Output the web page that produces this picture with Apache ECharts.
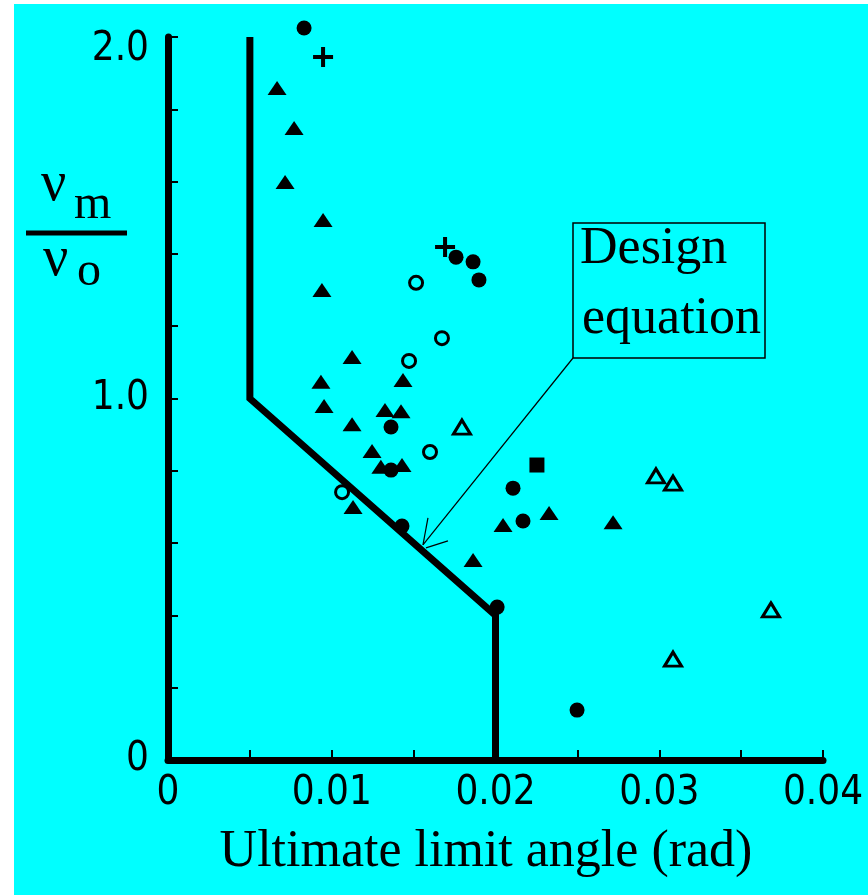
<!DOCTYPE html>
<html>
<head>
<meta charset="utf-8">
<script src="https://cdn.jsdelivr.net/npm/echarts@6/dist/echarts.min.js"></script>
<style>
html, body { margin: 0; padding: 0; background: #fff; }
#main { width: 868px; height: 895px; }
</style>
</head>
<body>
<div id="main"></div>
<script>
// design equation (angle, vm/vo)
var designLine = [[0.005, 2.0], [0.005, 1.0], [0.02, 0.4], [0.02, 0]];

// test results, one array per marker type
var filledTriangles = [
  [0.00666, 1.859], [0.0077, 1.748], [0.00715, 1.599], [0.00947, 1.494],
  [0.0094, 1.300], [0.01124, 1.115], [0.00934, 1.046], [0.00953, 0.979],
  [0.01124, 0.929], [0.01435, 1.051], [0.01325, 0.968], [0.01423, 0.965],
  [0.01246, 0.855], [0.0130, 0.811], [0.01429, 0.816], [0.0113, 0.700],
  [0.01863, 0.553], [0.02046, 0.650], [0.02327, 0.683], [0.02718, 0.658]
];
var filledCircles = [
  [0.00831, 2.025], [0.01362, 0.921], [0.01362, 0.802], [0.01429, 0.647],
  [0.0201, 0.423], [0.02107, 0.752], [0.02168, 0.661], [0.02498, 0.138],
  [0.01759, 1.391], [0.01863, 1.378], [0.01899, 1.328]
];
var openCircles = [
  [0.01673, 1.167], [0.01472, 1.104], [0.0160, 0.852], [0.01063, 0.741], [0.01515, 1.320]
];
var openTriangles = [
  [0.01795, 0.921], [0.0298, 0.786], [0.03084, 0.766], [0.03682, 0.415], [0.03084, 0.279]
];
var plusMarks = [[0.00947, 1.945], [0.01692, 1.419]];
var squareMarks = [[0.02253, 0.816]];

// labelled ticks
var xLabelValues = [0, 0.01, 0.02, 0.03, 0.04];
var yLabelValues = [0, 1.0, 2.0];

var CYAN = '#00ffff';
var numFont = "'Liberation Sans Narrow', 'DejaVu Sans Condensed', sans-serif";
var serif = "'Liberation Serif', 'DejaVu Serif', serif";

function isLabelled(list, v) {
  for (var i = 0; i < list.length; i++) {
    if (Math.abs(list[i] - v) < 1e-7) return true;
  }
  return false;
}

var chart = echarts.init(document.getElementById('main'));

var option = {
  animation: false,
  backgroundColor: CYAN,
  grid: { left: 168, right: 45, top: 37, bottom: 135 },
  xAxis: {
    type: 'value', min: 0, max: 0.04, interval: 0.005,
    splitLine: { show: false },
    axisLine: { lineStyle: { color: '#000', width: 7 } },
    axisTick: { inside: true, length: 10, lineStyle: { color: '#000', width: 2 } },
    axisLabel: {
      margin: 14, color: '#000', fontSize: 40, fontFamily: numFont,
      formatter: function (v) {
        if (!isLabelled(xLabelValues, v)) return '';
        return v === 0 ? '0' : v.toFixed(2);
      }
    }
  },
  yAxis: {
    type: 'value', min: 0, max: 2.0, interval: 0.2,
    splitLine: { show: false },
    axisLine: { lineStyle: { color: '#000', width: 7 } },
    axisTick: { inside: true, length: 10, lineStyle: { color: '#000', width: 2 } },
    axisLabel: {
      margin: 19, color: '#000', fontSize: 40, fontFamily: numFont,
      formatter: function (v) {
        if (!isLabelled(yLabelValues, v)) return '';
        if (v === 0) return '0';
        if (Math.abs(v - 2) < 1e-7) return '{top|2.0}';
        return v.toFixed(1);
      },
      rich: {
        top: { fontSize: 40, fontFamily: numFont, color: '#000', padding: [26, 0, 0, 0] }
      }
    }
  },
  series: [
    {
      type: 'line', data: designLine, symbol: 'none', silent: true,
      lineStyle: { color: '#000', width: 7, join: 'miter' }
    },
    {
      type: 'scatter', data: filledTriangles, clip: false, silent: true,
      symbol: 'triangle', symbolSize: [19, 14], itemStyle: { color: '#000', opacity: 1 }
    },
    {
      type: 'scatter', data: filledCircles, clip: false, silent: true,
      symbol: 'circle', symbolSize: 15, itemStyle: { color: '#000', opacity: 1 }
    },
    {
      type: 'scatter', data: openCircles, clip: false, silent: true,
      symbol: 'circle', symbolSize: 13,
      itemStyle: { color: CYAN, borderColor: '#000', borderWidth: 3, opacity: 1 }
    },
    {
      type: 'scatter', data: openTriangles, clip: false, silent: true,
      symbol: 'triangle', symbolSize: [17, 14],
      itemStyle: { color: CYAN, borderColor: '#000', borderWidth: 3, opacity: 1 }
    },
    {
      type: 'scatter', data: plusMarks, clip: false, silent: true,
      symbol: 'path://M0,8h20v4h-20z M8,0h4v20h-4z', symbolSize: 20,
      itemStyle: { color: '#000', opacity: 1 }
    },
    {
      type: 'scatter', data: squareMarks, clip: false, silent: true,
      symbol: 'rect', symbolSize: 15, itemStyle: { color: '#000', opacity: 1 }
    }
  ],
  graphic: [
    // white margin on left and top
    { type: 'rect', shape: { x: 0, y: 0, width: 14, height: 895 }, style: { fill: '#fff' } },
    { type: 'rect', shape: { x: 0, y: 0, width: 868, height: 4 }, style: { fill: '#fff' } },
    // y title as a fraction
    { type: 'text', x: 41, y: 185, style: { text: 'ν', font: '56px ' + serif, fill: '#000', align: 'left', verticalAlign: 'middle' } },
    { type: 'text', x: 74, y: 205, style: { text: 'm', font: '48px ' + serif, fill: '#000', align: 'left', verticalAlign: 'middle' } },
    { type: 'line', shape: { x1: 26, y1: 233, x2: 127, y2: 233 }, style: { stroke: '#000', lineWidth: 5 } },
    { type: 'text', x: 43, y: 260, style: { text: 'ν', font: '56px ' + serif, fill: '#000', align: 'left', verticalAlign: 'middle' } },
    { type: 'text', x: 77, y: 272, style: { text: 'o', font: '48px ' + serif, fill: '#000', align: 'left', verticalAlign: 'middle' } },
    // x title
    { type: 'text', x: 486, y: 852, style: { text: 'Ultimate limit angle (rad)', font: '52px ' + serif, fill: '#000', align: 'center', verticalAlign: 'middle' } },
    // annotation box
    { type: 'rect', shape: { x: 573, y: 223, width: 192, height: 135 }, style: { fill: 'none', stroke: '#000', lineWidth: 1.5 } },
    { type: 'text', x: 580, y: 249, style: { text: 'Design', font: '52px ' + serif, fill: '#000', align: 'left', verticalAlign: 'middle' } },
    { type: 'text', x: 582, y: 319, style: { text: 'equation', font: '52px ' + serif, fill: '#000', align: 'left', verticalAlign: 'middle' } }
  ]
};

chart.setOption(option);

// leader arrow pointing at the design line
var tip = chart.convertToPixel({ gridIndex: 0 }, [0.01557, 0.595]);
option.graphic.push(
  { type: 'line', shape: { x1: 573, y1: 358, x2: tip[0], y2: tip[1] }, style: { stroke: '#000', lineWidth: 1.2 } },
  { type: 'line', shape: { x1: tip[0], y1: tip[1], x2: tip[0] + 5, y2: tip[1] - 27 }, style: { stroke: '#000', lineWidth: 1.2 } },
  { type: 'line', shape: { x1: tip[0] + 3, y1: tip[1] + 3, x2: tip[0] + 25, y2: tip[1] - 4 }, style: { stroke: '#000', lineWidth: 1.2 } }
);
chart.setOption(option);
</script>
</body>
</html>
